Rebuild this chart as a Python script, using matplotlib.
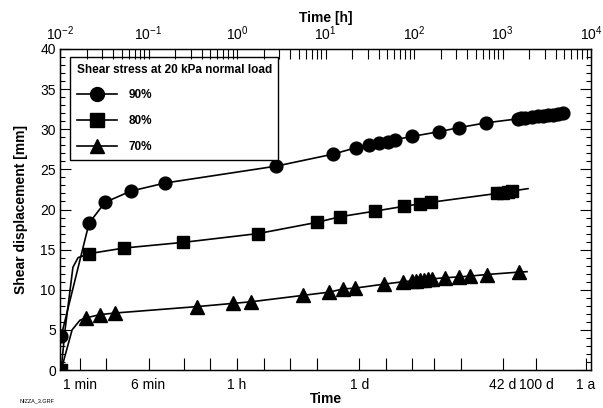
import matplotlib
matplotlib.use("Agg")
import matplotlib.pyplot as plt
from matplotlib.lines import Line2D
from matplotlib.ticker import LogFormatterSciNotation, MultipleLocator, NullFormatter, FixedLocator, FixedFormatter

plt.rcParams['font.family'] = ['Liberation Sans', 'DejaVu Sans']
plt.rcParams['mathtext.fontset'] = 'custom'
plt.rcParams['mathtext.rm'] = 'Liberation Sans'
plt.rcParams['mathtext.it'] = 'Liberation Sans:italic'
plt.rcParams['mathtext.bf'] = 'Liberation Sans:bold'

# --- Data (time in hours, shear displacement in mm) ---
s90_t = [0.0103, 0.0213, 0.0323, 0.0634, 0.154, 2.76, 12.2, 22.1, 31.0, 40.2, 50.8,
         61.0, 94.9, 192, 322, 651, 1497, 1618, 1796, 2154, 2518, 2868, 3267, 3720,
         4238, 4828]
s90_y = [4.2, 18.3, 20.9, 22.3, 23.3, 25.4, 26.9, 27.7, 28.0, 28.3, 28.45,
         28.7, 29.1, 29.7, 30.2, 30.8, 31.3, 31.35, 31.4, 31.5, 31.6, 31.7, 31.75, 31.8,
         31.9, 32.0]

s80_t = [0.0103, 0.0213, 0.0529, 0.245, 1.73, 8.02, 14.6, 36.3, 77.1, 117, 156,
         867, 1013, 1154, 1280]
s80_y = [0.0, 14.5, 15.2, 15.9, 17.0, 18.4, 19.1, 19.8, 20.4, 20.7, 20.9,
         22.0, 22.1, 22.2, 22.3]

s70_t = [0.0103, 0.0197, 0.0283, 0.0418, 0.353, 0.901, 1.44, 5.57, 10.95, 15.8, 21.5,
         45.8, 75.1, 94.9, 105, 117, 130, 144, 160, 224, 322, 429, 668, 1536]
s70_y = [0.0, 6.5, 6.9, 7.1, 7.9, 8.3, 8.5, 9.3, 9.7, 10.1, 10.2,
         10.7, 11.0, 11.1, 11.15, 11.2, 11.25, 11.3, 11.35, 11.5, 11.6, 11.7, 11.9, 12.2]

# curve points without markers
s80_curve_t = [0.0114, 0.0140, 0.0160, 1941]
s80_curve_y = [5.0, 12.8, 14.0, 22.6]
s70_curve_t = [0.0137, 0.0168, 1891]
s70_curve_y = [5.0, 6.2, 12.25]

series = [
    ("90%", "o", 9.2, s90_t, s90_y, [], []),
    ("80%", "s", 9.0, s80_t, s80_y, s80_curve_t, s80_curve_y),
    ("70%", "^", 9.5, s70_t, s70_y, s70_curve_t, s70_curve_y),
]

# bottom axis time marks (hours)
time_major = [1 / 60, 0.1, 1, 24, 1008, 2400, 8760]
time_major_labels = ["1 min", "6 min", "1 h", "1 d", "42 d", "100 d", "1 a"]
time_minor = [2 / 60, 0.25, 0.5, 2, 4, 8, 48, 96, 168, 336]

# top axis (hours)
hour_decades = [1e-2, 1e-1, 1e0, 1e1, 1e2, 1e3, 1e4]
hour_minor = [m * d for d in hour_decades[:-1] for m in range(2, 10)]

fig = plt.figure(figsize=(6.03, 4.08), dpi=100)
ax = fig.add_axes([60 / 603, 38 / 408, 531 / 603, 321 / 408])

handles = []
for label, mk, ms, t, y, ct, cy in series:
    pts = sorted(zip(list(t) + list(ct), list(y) + list(cy)))
    ax.plot([p[0] for p in pts], [p[1] for p in pts], color="black", lw=1.2, zorder=2)
    ax.plot(t, y, ls="none", marker=mk, ms=ms, color="black", zorder=3)
    handles.append(Line2D([], [], color="black", lw=1.2, marker=mk, ms=ms + 0.8, label=label))

ax.set_xscale("log")
ax.set_xlim(0.01, 1e4)
ax.set_ylim(0, 40)

ax.xaxis.set_major_locator(FixedLocator(time_major))
ax.xaxis.set_major_formatter(FixedFormatter(time_major_labels))
ax.xaxis.set_minor_locator(FixedLocator(time_minor))
ax.xaxis.set_minor_formatter(NullFormatter())
ax.yaxis.set_major_locator(MultipleLocator(5))
ax.yaxis.set_minor_locator(MultipleLocator(1))

ax.tick_params(axis="x", which="both", direction="in", length=8.5, width=0.8,
               labelsize=10, pad=6, top=False)
ax.tick_params(axis="y", which="major", direction="in", length=8, width=0.8,
               labelsize=10, pad=3, right=True)
ax.tick_params(axis="y", which="minor", direction="in", length=3.8, width=0.8, right=True)
for sp in ax.spines.values():
    sp.set_linewidth(1.0)

ax.set_xlabel("Time", fontsize=10, fontweight="bold", labelpad=0)
ax.set_ylabel("Shear displacement [mm]", fontsize=10, fontweight="bold", labelpad=9)

ax2 = ax.twiny()
ax2.set_xscale("log")
ax2.set_xlim(0.01, 1e4)
ax2.xaxis.set_major_locator(FixedLocator(hour_decades))
ax2.xaxis.set_major_formatter(LogFormatterSciNotation())
ax2.xaxis.set_minor_locator(FixedLocator(hour_minor))
ax2.xaxis.set_minor_formatter(NullFormatter())
ax2.tick_params(axis="x", which="major", direction="in", length=7, width=0.8,
                labelsize=10, pad=4)
ax2.tick_params(axis="x", which="minor", direction="in", length=7, width=0.8)
ax2.set_xlabel("Time [h]", fontsize=10, fontweight="bold", labelpad=2)

leg = ax.legend(handles=handles, loc="upper left", bbox_to_anchor=(0.019, 0.975),
                borderaxespad=0, title="Shear stress at 20 kPa normal load",
                title_fontproperties={"weight": "bold", "size": 8.5},
                prop={"weight": "bold", "size": 8.5}, alignment="left",
                handlelength=3.4, handletextpad=1.0, labelspacing=1.18,
                fancybox=False, framealpha=1, edgecolor="black", borderpad=0.55)
leg.get_frame().set_linewidth(1.0)
leg.set_zorder(5)

fig.text(20 / 603, 1 - 401 / 408, "NIZZA_3.GRF", fontsize=4, va="center")

fig.savefig("out.png", dpi=100)
